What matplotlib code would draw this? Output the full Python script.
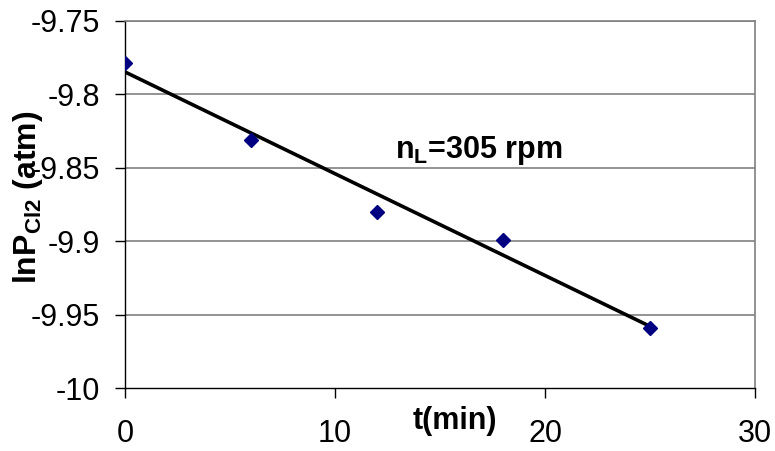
import matplotlib
matplotlib.use("Agg")
import matplotlib.pyplot as plt

t_min = [0, 6, 12, 18, 25]
ln_p = [-9.7785, -9.831, -9.880, -9.899, -9.959]
fit_x = [0, 25]
fit_y = [-9.7847, -9.958]
xticks = [0, 10, 20, 30]
yticks = [-10, -9.95, -9.9, -9.85, -9.8, -9.75]
ytick_labels = ["-10", "-9.95", "-9.9", "-9.85", "-9.8", "-9.75"]

plt.rcParams['font.family'] = ['Liberation Sans', 'DejaVu Sans']

fig = plt.figure(figsize=(7.75, 4.51), dpi=100)
ax = fig.add_axes([125/775, 1-388/451, 630/775, 367/451])

ax.set_xlim(0, 30)
ax.set_ylim(-10, -9.75)
ax.set_yticks(yticks)
ax.set_yticklabels(ytick_labels)
ax.set_xticks(xticks)
ax.set_xticklabels([str(v) for v in xticks])

for y in yticks[1:]:
    ax.axhline(y, color='#808080', lw=1.2, zorder=1)

ax.plot(fit_x, fit_y, color='black', lw=2.6, zorder=3)
ax.plot(t_min, ln_p, linestyle='none', marker='D', color='#000080', ms=7.5, zorder=4)

for s in ['top', 'right']:
    ax.spines[s].set_color('#808080')
    ax.spines[s].set_linewidth(1.2)
for s in ['left', 'bottom']:
    ax.spines[s].set_color('black')
    ax.spines[s].set_linewidth(1.0)

ax.tick_params(axis='both', direction='out', length=7.2, width=1, labelsize=22, color='black')
ax.tick_params(axis='y', pad=11)
ax.tick_params(axis='x', pad=15)

ax.text(0.4286, 0.648, r'n$_\mathregular{L}$=305 rpm', transform=ax.transAxes,
        fontsize=22, fontweight='bold', ha='left', va='center')

fig.text(455/775, 1-421/451, 't(min)', fontsize=22, fontweight='bold', ha='center', va='center')
fig.text(28/775, 1-197/451, r'lnP$_\mathregular{Cl2}$ (atm)', fontsize=23, fontweight='bold',
         rotation=90, ha='center', va='center')

fig.savefig('out.png', dpi=100)
